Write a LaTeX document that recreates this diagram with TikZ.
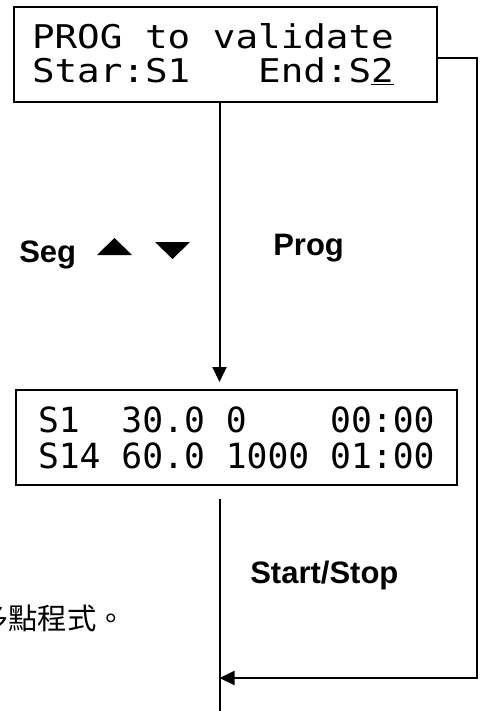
\documentclass[tikz,border=0pt]{standalone}
\usepackage{fontspec}
\setmainfont{Liberation Sans}
\newfontfamily\lcdfont{DejaVu Sans Mono}
\newfontfamily\lcdwide[FakeStretch=1.15]{DejaVu Sans Mono}
\newfontfamily\cjkfont{Noto Sans CJK TC}
\newcommand\lcdgap{\spaceskip=0pt\xspaceskip=0pt\relax}
\usetikzlibrary{arrows.meta}
\tikzset{
	wire/.style={line width=1.5pt},
	flow/.style={wire,-{Triangle[length=11.25pt,width=10.5pt]}},
	lcd/.style={draw,line width=1.5pt,align=left,minimum height=71.25pt,inner ysep=0pt},
	key/.style={anchor=base west,inner sep=0pt,font=\bfseries\fontsize{23.25pt}{23.25pt}\selectfont}
}
\begin{document}
\begin{tikzpicture}[x=.75pt,y=-.75pt]
		% frame
			\path[use as bounding box,clip] (0,0) rectangle (482,711);
		% displays
			\node[lcd,text width=290.25pt,inner xsep=13.5pt,
				font=\lcdwide\fontsize{24.5pt}{25.5pt}\selectfont] (valid) at (225.5,54.5)
				{\lcdgap PROG to validate\\Star:S1~~~End:S\underline{2}};
			\node[lcd,text width=297.75pt,inner xsep=16.5pt,
				font=\lcdfont\fontsize{26pt}{27pt}\selectfont] (segs) at (236.5,437.5)
				{\lcdgap S1~~30.0 0~~~~00:00\\S14 60.0 1000 01:00};
		% keys
			\node[key] (seglbl)  at (19,262)  {Seg};
			\node[key] (proglbl) at (273,255) {Prog};
			\node[key] (runlbl)  at (250,583) {Start/Stop};
			\fill (97,255) -- (132,255) -- (114.5,238) -- cycle;
			\fill (155,242) -- (190,242) -- (172.5,259) -- cycle;
			\node[anchor=base west,inner sep=0pt,
				font=\cjkfont\fontsize{22pt}{22pt}\selectfont] (note) at (-21,629) {多點程式。};
		% flow
			\path	(219.5,0)   coordinate (trunk)
					(477,678)   coordinate (turn)
					(219.5,499) coordinate (runtop)
					(219.5,711) coordinate (runend);
			\draw[flow] (trunk |- valid.south) -- ([yshift=5.25pt]trunk |- segs.north);
			\draw[flow] ([yshift=-2.6pt]valid.east) -| (turn) -- (runend |- turn);
			\draw[wire] (runtop) -- (runend);
	\end{tikzpicture}
\end{document}
